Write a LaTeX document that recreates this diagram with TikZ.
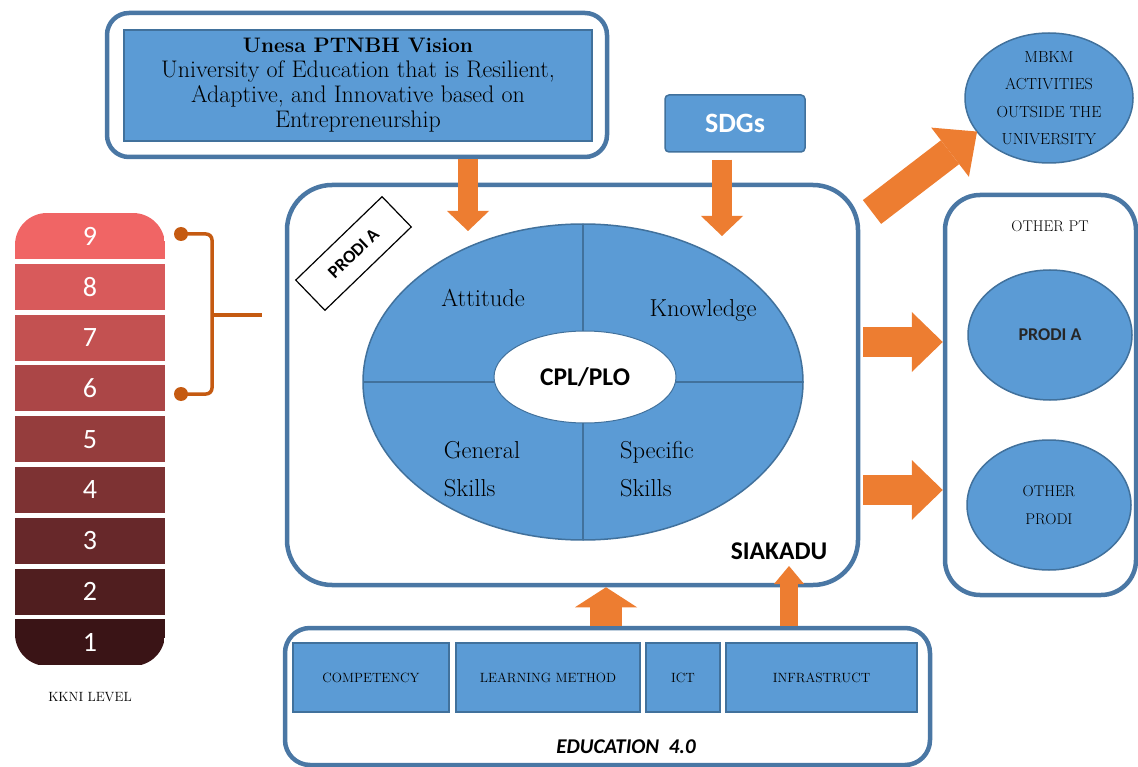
\documentclass[tikz,border=0pt]{standalone}
\usepackage{fontspec}
\newfontfamily\calibri{Carlito}
\usetikzlibrary{arrows.meta, shapes.geometric}
\definecolor{BoxBlue}{HTML}{5B9BD5}
\definecolor{EdgeBlue}{HTML}{41719C}
\definecolor{FrameBlue}{HTML}{4A77A4}
\definecolor{ArrowOrange}{HTML}{ED7D31}
\definecolor{BraceOrange}{HTML}{C55A11}
\definecolor{KkniTop}{HTML}{F06565}
\definecolor{KkniBottom}{HTML}{3A1416}
\definecolor{DarkText}{HTML}{262626}
\tikzset{
  framebox/.style={draw=FrameBlue, line width=4.5pt, rounded corners=#1, fill=white, inner sep=0pt},
  bluebox/.style={draw=EdgeBlue, line width=1.5pt, fill=BoxBlue, align=center, inner sep=0pt},
  blueoval/.style={ellipse, draw=EdgeBlue, line width=1.5pt, fill=BoxBlue, align=center, inner sep=0pt, outer sep=0pt},
  levelbar/.style={minimum width=150pt, minimum height=46pt, inner sep=0pt, text=white, font=\calibri\fontsize{28}{28}\selectfont},
  smalltext/.style={font=\fontsize{13.4}{13.4}\selectfont},
  capstext/.style={font=\fontsize{15.5}{28}\selectfont, align=center},
  quadtext/.style={font=\fontsize{24.5}{38}\selectfont, align=left},
  boldsans/.style={font=\calibri\bfseries\fontsize{25.5}{25.5}\selectfont},
  bracket/.style={draw=BraceOrange, line width=3.5pt, rounded corners=6pt},
  blockarrow/.style args={#1/#2/#3}{draw=ArrowOrange, line width=#1, -{Triangle[width=#2, length=#3, line width=0pt]}},
  downarrow/.style={blockarrow=20pt/42pt/20pt},
  sidearrow/.style={blockarrow=30pt/60pt/31pt},
  diagarrow/.style={blockarrow=30pt/62pt/34pt},
  liftarrow/.style={blockarrow=32pt/62pt/20pt},
  smallliftarrow/.style={blockarrow=18pt/30pt/18pt}
}
\begin{document}
\begin{tikzpicture}[x=1pt, y=-1pt]
\useasboundingbox (0,0) rectangle (1138,767);

\begin{scope}
\clip[rounded corners=32pt] (15,213) rectangle (165,666);
\foreach \lvl in {1,...,9}{
  \pgfmathtruncatemacro\pct{(\lvl-1)*12.5}
  \node[levelbar, fill=KkniTop!\pct!KkniBottom] (lvl\lvl) at (90,{236+(9-\lvl)*50.8}) {\lvl};
}
\end{scope}
\node[smalltext] (kknilabel) at (90,697) {KKNI LEVEL};

\coordinate (bracetop) at (181,234);
\coordinate (bracebot) at (181,394);
\coordinate (bracetip) at (262,315);
\draw[bracket] (bracetop) -- (212,234) -- (212,394) -- (bracebot);
\draw[bracket] (212,315) -- (bracetip);
\fill[BraceOrange] (bracetop) circle (7);
\fill[BraceOrange] (bracebot) circle (7);

\node[framebox=22pt, minimum width=500pt, minimum height=144pt] (visionframe) at (357,85) {};
\node[bluebox, minimum width=468pt, minimum height=111pt, font=\fontsize{24}{25}\selectfont] (vision) at (358,85.5)
  {{\fontsize{21}{25}\selectfont\textbf{Unesa PTNBH Vision}}\\University of Education that is Resilient,\\Adaptive, and Innovative based on\\Entrepreneurship};
\node[bluebox, rounded corners=4pt, minimum width=140pt, minimum height=57pt, text=white, font=\calibri\bfseries\fontsize{28}{28}\selectfont] (sdgs) at (735,123.5) {SDGs};

\node[framebox=45pt, minimum width=571pt, minimum height=400pt] (prodi) at (572.5,385) {};
\node[draw, line width=1.2pt, fill=white, rotate=44, minimum width=120pt, minimum height=42pt, inner sep=0pt,
  font=\calibri\bfseries\fontsize{18}{18}\selectfont] (prodilabel) at (353.5,253.5) {PRODI A};
\node[blueoval, minimum width=440pt, minimum height=316pt] (cpl) at (583,382) {};
\draw[EdgeBlue, line width=1.5pt] (cpl.west) -- (cpl.east);
\draw[EdgeBlue, line width=1.5pt] (cpl.north) -- (cpl.south);
\node[ellipse, fill=white, draw=EdgeBlue, line width=1pt, minimum width=182pt, minimum height=92pt, inner sep=0pt, boldsans] (core) at (585,377) {CPL/PLO};
\node[quadtext] (attitude) at (483,298) {Attitude};
\node[quadtext] (knowledge) at (703,310) {Knowledge};
\node[quadtext] (general) at (482,469) {General\\Skills};
\node[quadtext] (specific) at (657,469) {Specific\\Skills};
\node[boldsans] (siakadu) at (779,551) {SIAKADU};

\node[framebox=25pt, minimum width=645pt, minimum height=137pt] (edu) at (607.5,696.5) {};
\node[bluebox, smalltext, minimum width=156pt, minimum height=69pt] (competency) at (371,677.5) {COMPETENCY};
\node[bluebox, smalltext, minimum width=184pt, minimum height=69pt] (method) at (548,677.5) {LEARNING METHOD};
\node[bluebox, smalltext, minimum width=74pt, minimum height=69pt] (ict) at (683,677.5) {ICT};
\node[bluebox, smalltext, minimum width=191pt, minimum height=69pt] (infra) at (821.5,677.5) {INFRASTRUCT};
\node[font=\calibri\bfseries\itshape\fontsize{21}{21}\selectfont] (eduname) at (626,747) {EDUCATION\ \ 4.0};

\node[blueoval, inner sep=-6pt, minimum width=168pt, minimum height=130pt, font=\fontsize{16}{27.5}\selectfont] (mbkm) at (1049,98)
  {MBKM\\ACTIVITIES\\OUTSIDE THE\\UNIVERSITY};
\node[framebox=35pt, minimum width=191pt, minimum height=400pt] (otherpt) at (1040.5,395) {};
\node[capstext] (otherptname) at (1050,226) {OTHER PT};
\node[blueoval, minimum width=164pt, minimum height=130pt, text=DarkText, font=\calibri\bfseries\fontsize{18}{18}\selectfont] (prodia) at (1050,335) {PRODI A};
\node[blueoval, capstext, minimum width=164pt, minimum height=130pt] (otherprodi) at (1049,505) {OTHER\\PRODI};

\coordinate (visiontip) at (468,231);
\coordinate (sdgstip) at (722,236);
\coordinate (row1) at (900,342);
\coordinate (row2) at (900,490);
\coordinate (mbkmfoot) at (872,212);
\coordinate (liftA) at (606,600);
\coordinate (liftB) at (789,566);
\draw[downarrow] (visionframe.south -| visiontip) -- (visiontip);
\draw[downarrow, shorten <=7pt] (sdgs.south -| sdgstip) -- (sdgstip);
\draw[sidearrow, shorten <=3pt] (prodi.east |- row1) -- (otherpt.west |- row1);
\draw[sidearrow, shorten <=3pt] (prodi.east |- row2) -- (otherpt.west |- row2);
\draw[diagarrow] (mbkmfoot) -- (mbkm.205);
\draw[liftarrow] (edu.north -| liftA) -- (prodi.south -| liftA);
\draw[smallliftarrow] (edu.north -| liftB) -- (liftB);
\end{tikzpicture}
\end{document}
